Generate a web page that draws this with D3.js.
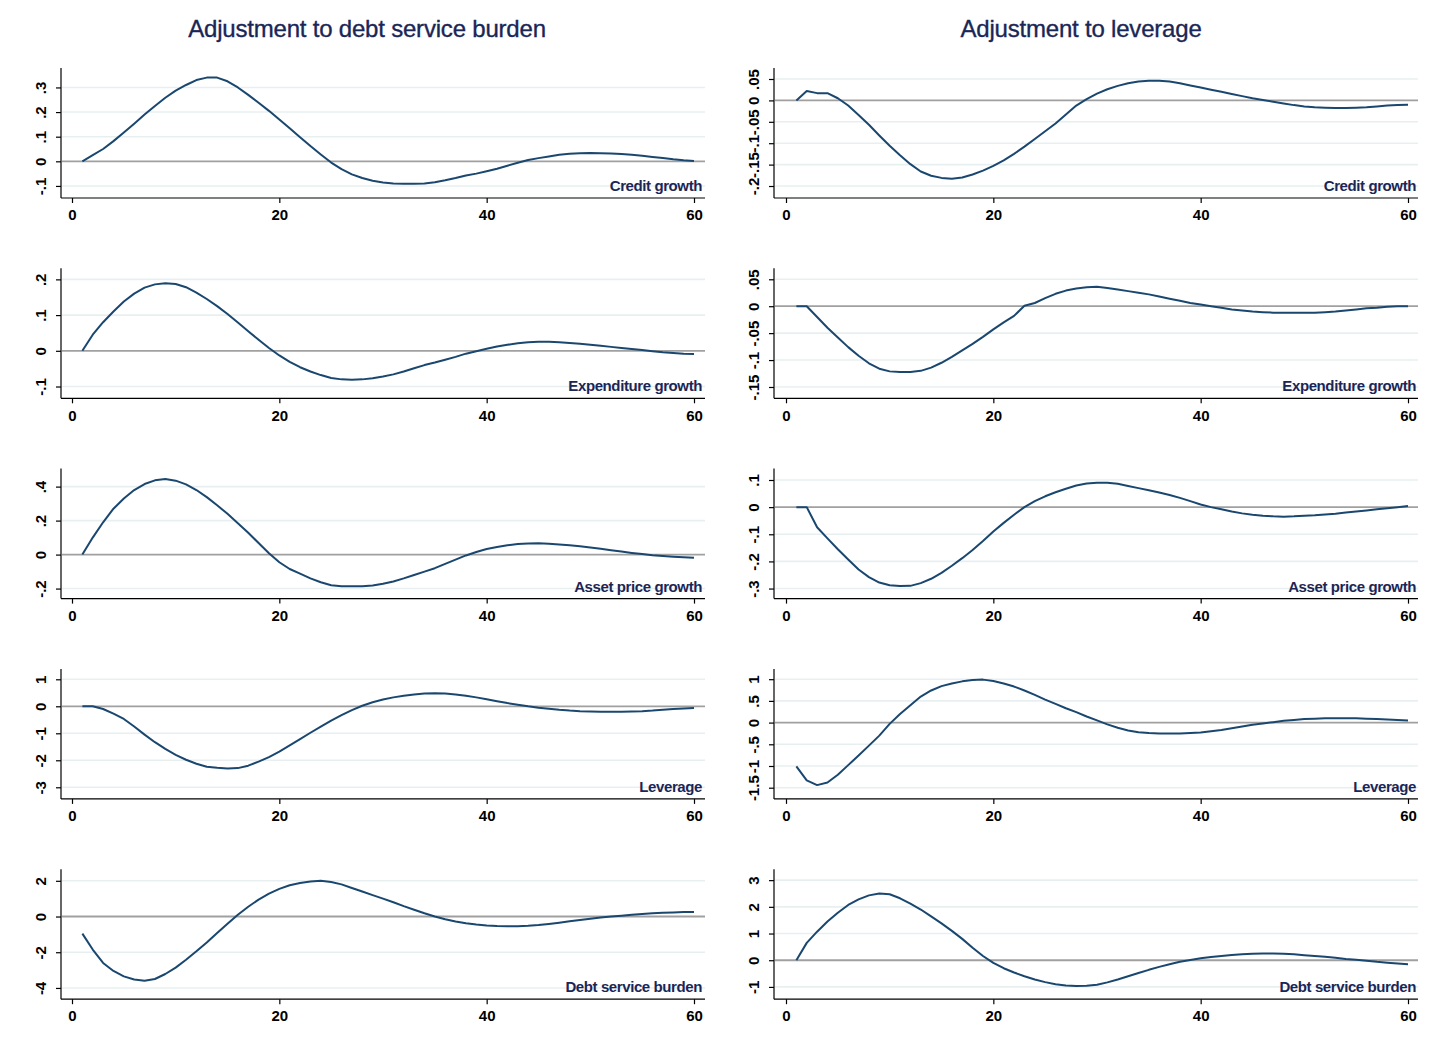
<!DOCTYPE html>
<html>
<head>
<meta charset="utf-8">
<script src="https://cdn.jsdelivr.net/npm/d3@7"></script>
<style>
  html, body { margin: 0; padding: 0; background: #ffffff; }
  svg { display: block; }
</style>
</head>
<body>
<div id="chart"></div>
<script>
// ---------------- DATA ----------------
const horizons = [1,2,3,4,5,6,7,8,9,10,11,12,13,14,15,16,17,18,19,20,21,22,23,24,25,26,27,28,29,30,
  31,32,33,34,35,36,37,38,39,40,41,42,43,44,45,46,47,48,49,50,51,52,53,54,55,56,57,58,59,60];

const columnTitles = ["Adjustment to debt service burden", "Adjustment to leverage"];
const panelLabels = ["Credit growth", "Expenditure growth", "Asset price growth", "Leverage", "Debt service burden"];
const xTicks = [0, 20, 40, 60];

// Left column: adjustment to debt service burden
const dsbCredit = [0,0.025,0.05,0.082,0.117,0.153,0.19,0.225,0.258,0.287,0.31,0.33,0.34,0.34,0.325,0.3,0.27,0.238,0.205,0.17,
  0.134,0.098,0.062,0.028,-0.005,-0.032,-0.053,-0.068,-0.079,-0.086,-0.09,-0.091,-0.091,-0.09,-0.085,-0.077,-0.068,-0.058,-0.05,-0.04,
  -0.03,-0.018,-0.006,0.005,0.013,0.02,0.027,0.031,0.033,0.034,0.033,0.032,0.03,0.027,0.023,0.018,0.013,0.008,0.004,0.001];
const dsbExpend = [0,0.045,0.08,0.11,0.138,0.16,0.177,0.186,0.189,0.187,0.178,0.163,0.145,0.125,0.103,0.079,0.055,0.031,0.008,-0.013,
  -0.031,-0.046,-0.058,-0.068,-0.076,-0.08,-0.081,-0.08,-0.077,-0.072,-0.066,-0.058,-0.049,-0.04,-0.033,-0.025,-0.017,-0.008,-0.001,0.006,
  0.012,0.017,0.021,0.024,0.025,0.025,0.024,0.022,0.02,0.017,0.014,0.011,0.008,0.005,0.002,-0.001,-0.004,-0.006,-0.008,-0.009];
const dsbAsset = [0,0.1,0.19,0.27,0.33,0.38,0.415,0.437,0.445,0.435,0.413,0.38,0.338,0.29,0.24,0.185,0.128,0.068,0.008,-0.045,
  -0.085,-0.112,-0.14,-0.163,-0.18,-0.186,-0.187,-0.186,-0.182,-0.172,-0.158,-0.14,-0.12,-0.1,-0.08,-0.055,-0.03,-0.005,0.015,0.033,
  0.045,0.055,0.062,0.065,0.066,0.064,0.06,0.055,0.049,0.042,0.034,0.026,0.018,0.01,0.003,-0.004,-0.009,-0.013,-0.016,-0.018];
const dsbLeverage = [0,0,-0.1,-0.27,-0.47,-0.75,-1.05,-1.33,-1.58,-1.8,-1.98,-2.13,-2.24,-2.28,-2.3,-2.29,-2.2,-2.05,-1.88,-1.68,
  -1.45,-1.22,-0.98,-0.75,-0.53,-0.33,-0.14,0.02,0.15,0.25,0.33,0.39,0.44,0.47,0.48,0.47,0.44,0.39,0.33,0.26,
  0.19,0.12,0.06,0,-0.05,-0.09,-0.13,-0.16,-0.18,-0.19,-0.2,-0.2,-0.2,-0.19,-0.18,-0.16,-0.13,-0.1,-0.08,-0.06];
const dsbDsb = [-0.96,-1.85,-2.6,-3.05,-3.35,-3.53,-3.6,-3.5,-3.22,-2.86,-2.42,-1.95,-1.45,-0.92,-0.4,0.1,0.55,0.95,1.28,1.55,
  1.75,1.88,1.96,2.0,1.93,1.8,1.6,1.4,1.2,1.0,0.8,0.58,0.38,0.18,0,-0.15,-0.28,-0.38,-0.45,-0.5,
  -0.53,-0.54,-0.54,-0.52,-0.48,-0.42,-0.35,-0.27,-0.2,-0.12,-0.05,0,0.05,0.1,0.14,0.18,0.21,0.23,0.25,0.26];

// Right column: adjustment to leverage
const levCredit = [0,0.022,0.017,0.017,0.005,-0.012,-0.034,-0.057,-0.082,-0.106,-0.128,-0.149,-0.166,-0.176,-0.181,-0.183,-0.18,-0.173,-0.164,-0.153,
  -0.14,-0.125,-0.108,-0.09,-0.072,-0.054,-0.033,-0.012,0.003,0.016,0.026,0.034,0.04,0.044,0.046,0.046,0.044,0.04,0.035,0.03,
  0.025,0.02,0.015,0.01,0.005,0.001,-0.003,-0.007,-0.011,-0.014,-0.016,-0.017,-0.018,-0.018,-0.017,-0.016,-0.014,-0.012,-0.011,-0.01];
const levExpend = [0,0,-0.02,-0.04,-0.058,-0.076,-0.092,-0.106,-0.116,-0.121,-0.122,-0.122,-0.12,-0.114,-0.105,-0.094,-0.082,-0.07,-0.057,-0.043,
  -0.03,-0.018,0.001,0.006,0.015,0.023,0.029,0.033,0.035,0.036,0.034,0.031,0.028,0.025,0.022,0.018,0.014,0.01,0.006,0.003,
  0,-0.003,-0.006,-0.008,-0.01,-0.011,-0.012,-0.012,-0.012,-0.012,-0.012,-0.011,-0.01,-0.008,-0.006,-0.004,-0.003,-0.001,0,0];
const levAsset = [0,0,-0.074,-0.115,-0.155,-0.193,-0.23,-0.258,-0.278,-0.288,-0.291,-0.29,-0.28,-0.264,-0.242,-0.216,-0.188,-0.158,-0.125,-0.09,
  -0.058,-0.028,0,0.022,0.04,0.055,0.068,0.08,0.087,0.09,0.09,0.086,0.078,0.07,0.062,0.054,0.045,0.034,0.022,0.01,
  0,-0.008,-0.016,-0.023,-0.028,-0.032,-0.034,-0.035,-0.034,-0.032,-0.03,-0.027,-0.024,-0.02,-0.016,-0.012,-0.008,-0.004,0,0.004];
const levLeverage = [-1.01,-1.33,-1.44,-1.38,-1.2,-0.98,-0.76,-0.53,-0.3,-0.03,0.2,0.4,0.6,0.74,0.84,0.9,0.95,0.98,0.99,0.96,
  0.9,0.83,0.74,0.64,0.53,0.43,0.33,0.24,0.14,0.05,-0.04,-0.12,-0.18,-0.22,-0.24,-0.25,-0.25,-0.25,-0.24,-0.23,
  -0.2,-0.17,-0.13,-0.09,-0.05,-0.02,0.01,0.04,0.06,0.08,0.09,0.1,0.1,0.1,0.1,0.09,0.08,0.07,0.06,0.05];
const levDsb = [0,0.65,1.07,1.45,1.78,2.07,2.28,2.43,2.5,2.47,2.32,2.12,1.9,1.64,1.38,1.1,0.8,0.47,0.16,-0.1,
  -0.3,-0.46,-0.6,-0.72,-0.82,-0.9,-0.95,-0.97,-0.96,-0.92,-0.83,-0.72,-0.6,-0.48,-0.36,-0.25,-0.15,-0.06,0.01,0.07,
  0.12,0.16,0.2,0.22,0.24,0.25,0.25,0.24,0.22,0.19,0.16,0.13,0.09,0.05,0.02,-0.02,-0.06,-0.09,-0.12,-0.15];

// Y tick values per panel
const yTicksLeft = [[-0.1,0,0.1,0.2,0.3],[-0.1,0,0.1,0.2],[-0.2,0,0.2,0.4],[-3,-2,-1,0,1],[-4,-2,0,2]];
const yTicksRight = [[-0.2,-0.15,-0.1,-0.05,0,0.05],[-0.15,-0.1,-0.05,0,0.05],[-0.3,-0.2,-0.1,0,0.1],[-1.5,-1,-0.5,0,0.5,1],[-1,0,1,2,3]];

const seriesLeft = [dsbCredit, dsbExpend, dsbAsset, dsbLeverage, dsbDsb];
const seriesRight = [levCredit, levExpend, levAsset, levLeverage, levDsb];

// ---------------- LAYOUT ----------------
const W = 1435, H = 1052;
const rowTops = [68, 268.3, 468.6, 668.9, 869.2];
const plotH = 130;
const cols = [
  { axisX: 61, x0: 72, x60: 694, right: 705, titleX: 367, labelRight: 702, tickLabelX: 40 },
  { axisX: 774, x0: 786, x60: 1408, right: 1418, titleX: 1081, labelRight: 1416, tickLabelX: 753 }
];
// y domains [min, max] per panel (axis ranges)
const yDomLeft = [[-0.149,0.379],[-0.133,0.231],[-0.259,0.506],[-3.43,1.385],[-4.63,2.65]];
const yDomRight = [[-0.228,0.0757],[-0.171,0.0704],[-0.337,0.142],[-1.758,1.237],[-1.46,3.41]];

const lineColor = "#1a476f";
const textColor = "#1a2656";
const gridColor = "#e8eff1";
const font = "'Liberation Sans', Arial, Helvetica, sans-serif";

const fmt = d => d === 0 ? "0" : String(d).replace("0.", ".");

const svg = d3.select("#chart").append("svg").attr("width", W).attr("height", H);
svg.append("rect").attr("width", W).attr("height", H).attr("fill", "#ffffff");

// Column titles
columnTitles.forEach((t, c) => {
  svg.append("text")
    .attr("x", cols[c].titleX).attr("y", 37)
    .attr("text-anchor", "middle")
    .attr("font-family", font).attr("font-size", 24)
    .attr("fill", textColor)
    .attr("stroke", textColor).attr("stroke-width", 0.35)
    .attr("letter-spacing", -0.2)
    .text(t);
});

const allSeries = [seriesLeft, seriesRight];
const allDom = [yDomLeft, yDomRight];
const allTicks = [yTicksLeft, yTicksRight];

for (let c = 0; c < 2; c++) {
  const col = cols[c];
  const x = d3.scaleLinear().domain([0, 60]).range([col.x0, col.x60]);
  for (let r = 0; r < 5; r++) {
    const top = rowTops[r], bottom = top + plotH;
    const y = d3.scaleLinear().domain(allDom[c][r]).range([bottom, top]);
    const g = svg.append("g");
    const ticks = allTicks[c][r];

    // grid lines
    g.selectAll("line.grid").data(ticks.filter(v => v !== 0)).enter().append("line")
      .attr("x1", col.axisX + 1).attr("x2", col.right)
      .attr("y1", d => y(d)).attr("y2", d => y(d))
      .attr("stroke", gridColor).attr("stroke-width", 1.6);

    // zero reference line
    g.append("line")
      .attr("x1", col.axisX + 1).attr("x2", col.right)
      .attr("y1", y(0)).attr("y2", y(0))
      .attr("stroke", "#a0a0a0").attr("stroke-width", 1.8);

    // y axis
    const yAxis = d3.axisLeft(y).tickValues(ticks).tickFormat(fmt).tickSize(5).tickSizeOuter(0);
    const ya = g.append("g").attr("transform", `translate(${col.axisX},0)`).call(yAxis);
    ya.select(".domain").attr("d", `M0,${top}V${bottom}`).attr("stroke", "#000").attr("stroke-width", 1.2);
    ya.selectAll(".tick line").attr("stroke", "#000").attr("stroke-width", 1.2);
    ya.selectAll(".tick text")
      .attr("x", 0).attr("y", 0).attr("dy", null)
      .attr("transform", `translate(${col.tickLabelX - col.axisX},0) rotate(-90)`)
      .attr("text-anchor", "middle")
      .attr("dominant-baseline", "central")
      .attr("font-family", font).attr("font-size", 15).attr("font-weight", "bold")
      .attr("fill", "#000");

    // x axis
    const xAxis = d3.axisBottom(x).tickValues(xTicks).tickFormat(d3.format("d")).tickSize(5).tickSizeOuter(0);
    const xa = g.append("g").attr("transform", `translate(0,${bottom})`).call(xAxis);
    xa.select(".domain").attr("d", `M${col.axisX},0H${col.right}`).attr("stroke", "#000").attr("stroke-width", 1.2);
    xa.selectAll(".tick line").attr("stroke", "#000").attr("stroke-width", 1.2);
    xa.selectAll(".tick text")
      .attr("y", 17).attr("dy", "0.35em")
      .attr("font-family", font).attr("font-size", 15).attr("font-weight", "bold")
      .attr("fill", "#000");

    // series line
    const data = horizons.map((h, i) => [h, allSeries[c][r][i]]);
    g.append("path")
      .datum(data)
      .attr("fill", "none")
      .attr("stroke", lineColor)
      .attr("stroke-width", 2)
      .attr("stroke-linejoin", "round")
      .attr("d", d3.line().x(d => x(d[0])).y(d => y(d[1])));

    // panel label
    g.append("text")
      .attr("x", col.labelRight).attr("y", top + 123)
      .attr("text-anchor", "end")
      .attr("font-family", font).attr("font-size", 15).attr("font-weight", "bold")
      .attr("letter-spacing", -0.4)
      .attr("fill", textColor)
      .text(panelLabels[r]);
  }
}
</script>
</body>
</html>
